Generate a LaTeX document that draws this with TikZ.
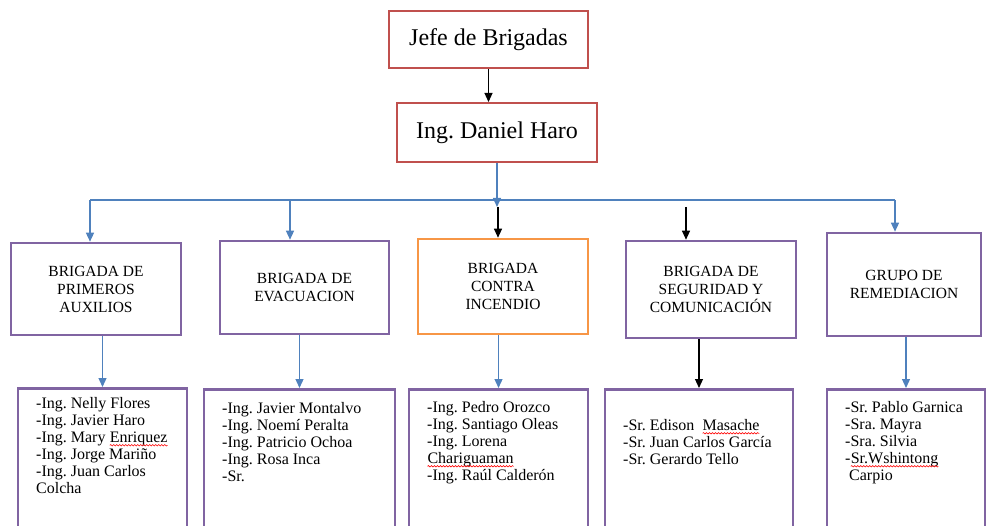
\documentclass[tikz,border=0pt]{standalone}
\usepackage{fontspec}
\setmainfont{Liberation Serif}
\usepackage{xcolor}
\usetikzlibrary{arrows.meta, positioning, decorations.pathmorphing}

\definecolor{rojo}{HTML}{C0504D}
\definecolor{morado}{HTML}{8064A2}
\definecolor{naranja}{HTML}{F79646}
\definecolor{azul}{HTML}{4F81BD}

% red wavy underline of the spell checker
\newcommand{\errata}[1]{\tikz[baseline=(w.base)]{%
  \node[inner sep=0pt, outer sep=0pt, draw=none, anchor=center] (w) {#1};
  \draw[red, line width=0.6pt, decorate, decoration={snake, amplitude=0.7pt, segment length=3pt}]
    ([yshift=-3pt]w.base west) -- ([yshift=-3pt]w.base east);}}

\frenchspacing

\begin{document}
\begin{tikzpicture}[
  x=1pt, y=-1pt, % one unit = one pixel of the scan, y going down
  >={Triangle[length=9pt,width=8pt]}, % filled arrow heads
  jefe/.style={draw=rojo, line width=2pt, minimum width=199pt, minimum height=57pt,
    font=\fontsize{24}{28}\selectfont},
  brigada/.style={draw=morado, line width=2.6pt, minimum width=170pt, align=center,
    font=\fontsize{15.5}{18}\selectfont},
  caja/.style={draw=morado, line width=2.8pt, anchor=north, minimum height=170pt},
  lista/.style={anchor=north west, align=left, inner sep=0pt,
    font=\fontsize{16}{17}\selectfont},
  azulflecha/.style={azul, line width=1.3pt, ->},
  negraflecha/.style={black, line width=1.1pt, ->},
]
    \useasboundingbox (0,0) rectangle (987,526);
    \clip (0,0) rectangle (987,526);

    % chief
    \node[jefe] (jefe) at (488.5,40) {Jefe de Brigadas};
    \node[jefe, minimum width=200pt, minimum height=59pt] (daniel) at (497,132.5) {Ing. Daniel Haro};
    \draw[negraflecha] (jefe.south) -- (jefe.south |- daniel.north);

    % brigades
    \node[brigada, minimum height=92pt] (b1) at (96,289) {BRIGADA DE\\PRIMEROS\\AUXILIOS};
    \node[brigada, minimum width=169pt, minimum height=93pt] (b2) at (304.5,287.5) {BRIGADA DE\\EVACUACION};
    \node[brigada, draw=naranja, minimum height=95pt] (b3) at (503,286.5) {BRIGADA\\CONTRA\\INCENDIO};
    \node[brigada, minimum height=97pt] (b4) at (711,289.5) {BRIGADA DE\\SEGURIDAD Y\\COMUNICACIÓN};
    \node[brigada, minimum width=154pt, minimum height=103pt] (b5) at (904,284.5) {GRUPO DE\\REMEDIACION};

    % bus
    \coordinate (t1) at (90,200);
    \coordinate (t2) at (290,200);
    \coordinate (t3) at (498,207);
    \coordinate (t4) at (686,207);
    \coordinate (t5) at (895,200);
    \draw[azul, line width=1.3pt] (t1) -- (t5);
    \draw[azulflecha] (daniel.south) -- (daniel.south |- t3);
    \draw[negraflecha] (t3) -- (t3 |- b3.north);
    \draw[negraflecha] (t4) -- (t4 |- b4.north);
    \draw[azulflecha] (t1) -- (t1 |- b1.north);
    \draw[azulflecha] (t2) -- (t2 |- b2.north);
    \draw[azulflecha] (t5) -- (t5 |- b5.north);

    % member boxes
    \node[caja, minimum width=169pt] (m1) at (102.5,387) {};
    \node[caja, minimum width=191pt] (m2) at (299.5,388) {};
    \node[caja, minimum width=179pt] (m3) at (498.5,388) {};
    \node[caja, minimum width=188pt] (m4) at (699,388) {};
    \node[caja, minimum width=158pt] (m5) at (906,388) {};

    \draw[azulflecha] (m1.north |- b1.south) -- (m1.north);
    \draw[azulflecha] (m2.north |- b2.south) -- (m2.north);
    \draw[azulflecha] (m3.north |- b3.south) -- (m3.north);
    \draw[negraflecha] (m4.north |- b4.south) -- (m4.north);
    \draw[azulflecha] (m5.north |- b5.south) -- (m5.north);

    \node[lista] (l1) at (36,397) {-Ing. Nelly Flores\\-Ing. Javier Haro\\-Ing. Mary \errata{Enriquez}\\-Ing. Jorge Mariño\\-Ing. Juan Carlos\\Colcha};
    \node[lista] (l2) at (222,402) {-Ing. Javier Montalvo\\-Ing. Noemí Peralta\\-Ing. Patricio Ochoa\\-Ing. Rosa Inca\\-Sr.};
    \node[lista] (l3) at (427,401) {-Ing. Pedro Orozco\\-Ing. Santiago Oleas\\-Ing. Lorena\\\errata{Chariguaman}\\-Ing. Raúl Calderón};
    \node[lista] (l4) at (623,419) {-Sr. Edison~ \errata{Masache}\\-Sr. Juan Carlos García\\-Sr. Gerardo Tello};
    \node[lista] (l5) at (845,401) {-Sr. Pablo Garnica\\-Sra. Mayra\\-Sra. Silvia\\-\errata{Sr.Wshintong}\\~Carpio};
\end{tikzpicture}
\end{document}
